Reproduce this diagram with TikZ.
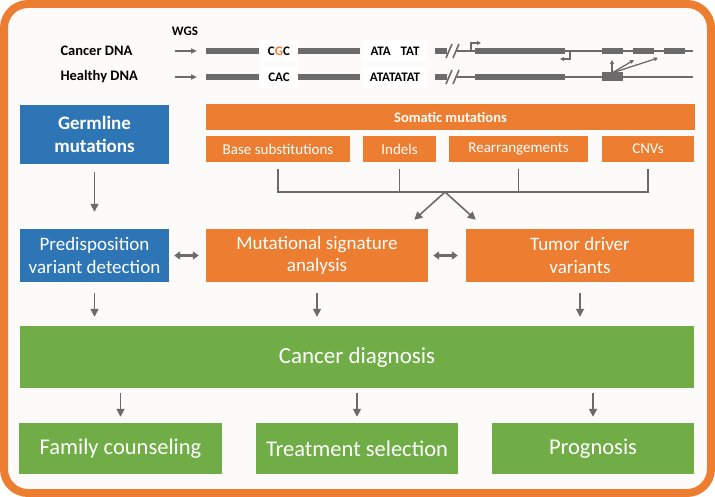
\documentclass[tikz,border=0pt]{standalone}
\usepackage{fontspec}
\setmainfont{Carlito}
\usepackage{xcolor}
\usetikzlibrary{arrows.meta,positioning,calc}
\definecolor{frameorange}{HTML}{ED7D31}
\definecolor{boxblue}{HTML}{2E75B6}
\definecolor{boxgreen}{HTML}{70AD47}
\definecolor{linegray}{HTML}{6B6B6B}
\definecolor{paper}{HTML}{FDFBF9}
\newcommand{\fs}[1]{\fontsize{#1}{1.18\dimexpr#1pt\relax}\selectfont}

\begin{document}
\begin{tikzpicture}[x=1pt,y=-1pt,>={Triangle[width=8pt,length=8pt]},
  box/.style={rectangle,inner sep=0pt,text=white,align=center},
  flow/.style={->,line width=1.6pt,linegray},
  twoway/.style={<->,line width=2.4pt,linegray,>={Triangle[width=8pt,length=6pt]}},
  dna/.style={line width=6pt,linegray},
  thinstrand/.style={line width=1.3pt,linegray},
  seq/.style={fill=white,inner sep=0pt,minimum height=22pt,font=\bfseries\fs{13}}]

  \useasboundingbox (0,0) rectangle (715,497);
  \draw[frameorange,line width=8pt,fill=paper,rounded corners=24pt]
    (4,4) rectangle (711,493);

  % sequencing sketch
  \node[font=\bfseries\fs{13}] (wgs) at (185,31) {WGS};
  \node[anchor=west,font=\bfseries\fs{14.5}] (cancer) at (57,51) {Cancer DNA};
  \node[anchor=west,font=\bfseries\fs{14.5}] (healthy) at (57,77) {Healthy DNA};
  \draw[flow,>={Triangle[width=5pt,length=6pt]}] (175,51) -- (197,51);
  \draw[flow,>={Triangle[width=5pt,length=6pt]}] (175,77) -- (197,77);

  \draw[dna] (206,51) -- (259,51) (298,51) -- (360,51) (435,51) -- (447,51);
  \draw[dna] (206,77) -- (259,77) (298,77) -- (360,77) (435,77) -- (447,77);
  \node[seq,minimum width=38pt] (cgc) at (279,51) {C\textcolor{frameorange}{G}C};
  \node[seq,minimum width=38pt] (cac) at (279,77) {CAC};
  \node[seq,minimum width=64pt] (atat) at (395,51) {ATA\hspace{10pt}TAT};
  \node[seq,minimum width=64pt] (atatat) at (395,77) {ATATATAT};

  \draw[line width=1.6pt,linegray] (446,58) -- (452,44) (453,58) -- (459,44);
  \draw[line width=1.6pt,linegray] (446,84) -- (452,70) (453,84) -- (459,70);
  \draw[thinstrand] (457,51) -- (693,51);
  \draw[thinstrand] (457,77) -- (693,77);
  \draw[dna] (475,51) -- (565,51) (602,51) -- (623,51) (633,51) -- (654,51)
    (664,51) -- (685,51);
  \draw[dna] (475,77) -- (565,77);
  \draw[line width=9pt,linegray] (602,77) -- (623,77);
  \draw[thinstrand,->,>={Triangle[width=4pt,length=4pt]}]
    (471,51) -- (471,43) -- (481,43);
  \draw[thinstrand,->,>={Triangle[width=4pt,length=4pt]}]
    (570,51) -- (570,59) -- (560,59);
  \draw[thinstrand,->,>={Triangle[width=4pt,length=4pt]}] (612,73) -- (612,60);
  \draw[thinstrand,->,>={Triangle[width=4pt,length=4pt]}] (612,73) -- (634,60);
  \draw[thinstrand,->,>={Triangle[width=4pt,length=4pt]}] (612,73) -- (658,58);

  % mutation classes
  \node[box,fill=boxblue,minimum width=149pt,minimum height=59pt,
        font=\bfseries\fs{19}] (germ) at (94.5,134.5) {Germline\\mutations};
  \node[box,fill=frameorange,minimum width=489pt,minimum height=26pt,
        font=\bfseries\fs{14.5}] (soma) at (450.5,117) {Somatic mutations};
  \node[box,fill=frameorange,minimum width=144pt,minimum height=26pt,
        font=\fs{15}] (base) at (278,149) {Base substitutions};
  \node[box,fill=frameorange,minimum width=73pt,minimum height=26pt,
        font=\fs{15}] (indel) at (399.5,149) {Indels};
  \node[box,fill=frameorange,minimum width=139pt,minimum height=26pt,
        font=\fs{15}] (rearr) at (518.5,149) {Rearrangements};
  \node[box,fill=frameorange,minimum width=92pt,minimum height=26pt,
        font=\fs{15}] (cnv) at (648,149) {CNVs};

  % analyses
  \node[box,fill=boxblue,minimum width=149pt,minimum height=53pt,
        font=\fs{19}] (pred) at (94.5,255.5) {Predisposition\\variant detection};
  \node[box,fill=frameorange,minimum width=222pt,minimum height=53pt,
        font=\fs{19}] (mutsig) at (317,255.5) {Mutational signature\\analysis};
  \node[box,fill=frameorange,minimum width=228pt,minimum height=53pt,
        font=\fs{19}] (driver) at (580,255.5) {Tumor driver\\variants};

  \node[box,fill=boxgreen,minimum width=674pt,minimum height=62pt,
        font=\fs{23}] (diag) at (357,357) {Cancer diagnosis};

  \node[box,fill=boxgreen,minimum width=203pt,minimum height=51pt,
        font=\fs{22.5}] (family) at (120.5,448.5) {Family counseling};
  \node[box,fill=boxgreen,minimum width=202pt,minimum height=51pt,
        font=\fs{22.5}] (treat) at (357,448.5) {Treatment selection};
  \node[box,fill=boxgreen,minimum width=202pt,minimum height=51pt,
        font=\fs{22.5}] (prog) at (593,448.5) {Prognosis};

  % connectors
  \coordinate (jn) at (445,192);
  \draw[line width=1.6pt,linegray] ([yshift=-7pt]base.south) -- (base.south |- jn)
    -- (cnv.south |- jn) -- ([yshift=-7pt]cnv.south);
  \draw[line width=1.6pt,linegray] ([yshift=-7pt]indel.south) -- (indel.south |- jn);
  \draw[line width=1.6pt,linegray] ([yshift=-7pt]rearr.south) -- (rearr.south |- jn);
  \draw[flow] (jn) -- ([xshift=-14pt,yshift=9pt]mutsig.north east);
  \draw[flow] (jn) -- ([xshift=10pt,yshift=9pt]driver.north west);

  \draw[flow,shorten <=8pt,shorten >=17pt] (germ) -- (pred);
  \draw[twoway,shorten <=5pt,shorten >=7pt] (pred) -- (mutsig);
  \draw[twoway,shorten <=5pt,shorten >=8pt] (mutsig) -- (driver);

  \draw[flow,shorten <=11pt,shorten >=9pt] (pred.south) -- (pred.south |- diag.north);
  \draw[flow,shorten <=11pt,shorten >=9pt] (mutsig.south) -- (mutsig.south |- diag.north);
  \draw[flow,shorten <=11pt,shorten >=9pt] (driver.south) -- (driver.south |- diag.north);

  \draw[flow,shorten <=5pt,shorten >=6pt] (diag.south -| family.north) -- (family.north);
  \draw[flow,shorten <=5pt,shorten >=6pt] (diag.south -| treat.north) -- (treat.north);
  \draw[flow,shorten <=5pt,shorten >=6pt] (diag.south -| prog.north) -- (prog.north);
\end{tikzpicture}
\end{document}
